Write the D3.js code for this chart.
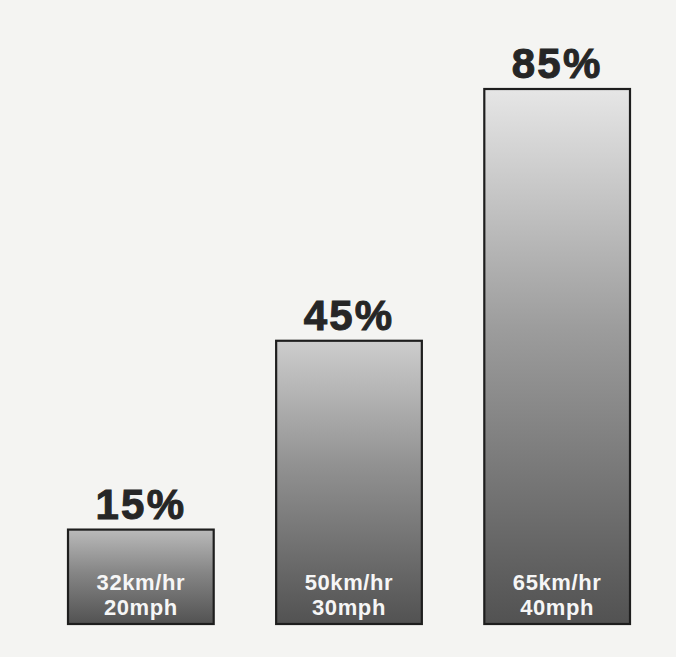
<!DOCTYPE html>
<html>
<head>
<meta charset="utf-8">
<script src="https://cdn.jsdelivr.net/npm/d3@7"></script>
<style>
  html, body { margin: 0; padding: 0; background: #f4f4f2; }
  svg { display: block; }
</style>
</head>
<body>
<svg id="chart" width="676" height="657"></svg>
<script>
const categories = ["32km/hr|20mph", "50km/hr|30mph", "65km/hr|40mph"];
const speedKm = ["32km/hr", "50km/hr", "65km/hr"];
const speedMph = ["20mph", "30mph", "40mph"];
const values = [15, 45, 85];
const valueLabels = ["15%", "45%", "85%"];

const W = 676, H = 657;
const svg = d3.select("#chart");

svg.append("rect").attr("width", W).attr("height", H).attr("fill", "#f4f4f2");

const x = d3.scaleBand().domain(categories).range([68, 630]).paddingInner(0.3).paddingOuter(0);
const y = d3.scaleLinear().domain([0, 85]).range([624, 89]);
const topShade = d3.scaleLinear().domain([0, 85]).range(["#b0b0b0", "#e6e6e6"]);

const defs = svg.append("defs");
categories.forEach((c, i) => {
  const g = defs.append("linearGradient").attr("id", "grad" + i)
    .attr("x1", 0).attr("y1", 0).attr("x2", 0).attr("y2", 1);
  g.append("stop").attr("offset", "0%").attr("stop-color", topShade(values[i]));
  g.append("stop").attr("offset", "45%").attr("stop-color", d3.interpolateRgb(topShade(values[i]), "#525252")(0.5));
  g.append("stop").attr("offset", "100%").attr("stop-color", "#525252");
});

const bars = svg.append("g").selectAll("g").data(categories).join("g");

bars.append("rect")
  .attr("x", d => x(d))
  .attr("y", (d, i) => y(values[i]))
  .attr("width", x.bandwidth())
  .attr("height", (d, i) => y(0) - y(values[i]))
  .attr("fill", (d, i) => "url(#grad" + i + ")")
  .attr("stroke", "#1e1e1e")
  .attr("stroke-width", 2.2);

bars.append("text")
  .attr("x", d => x(d) + x.bandwidth() / 2)
  .attr("y", (d, i) => y(values[i]) - 11)
  .attr("text-anchor", "middle")
  .attr("font-family", "'Liberation Sans', Arial, Helvetica, sans-serif")
  .attr("font-weight", "bold")
  .attr("font-size", 42)
  .attr("letter-spacing", 2.2)
  .attr("fill", "#262626")
  .attr("stroke", "#262626")
  .attr("stroke-width", 1)
  .text((d, i) => valueLabels[i]);

bars.append("text")
  .attr("x", d => x(d) + x.bandwidth() / 2)
  .attr("y", y(0) - 34)
  .attr("text-anchor", "middle")
  .attr("font-family", "'Liberation Sans', Arial, Helvetica, sans-serif")
  .attr("font-weight", "bold")
  .attr("font-size", 22)
  .attr("letter-spacing", 0.6)
  .attr("fill", "#f6f6f6")
  .text((d, i) => speedKm[i]);

bars.append("text")
  .attr("x", d => x(d) + x.bandwidth() / 2)
  .attr("y", y(0) - 9)
  .attr("text-anchor", "middle")
  .attr("font-family", "'Liberation Sans', Arial, Helvetica, sans-serif")
  .attr("font-weight", "bold")
  .attr("font-size", 22)
  .attr("letter-spacing", 0.6)
  .attr("fill", "#f6f6f6")
  .text((d, i) => speedMph[i]);
</script>
</body>
</html>
